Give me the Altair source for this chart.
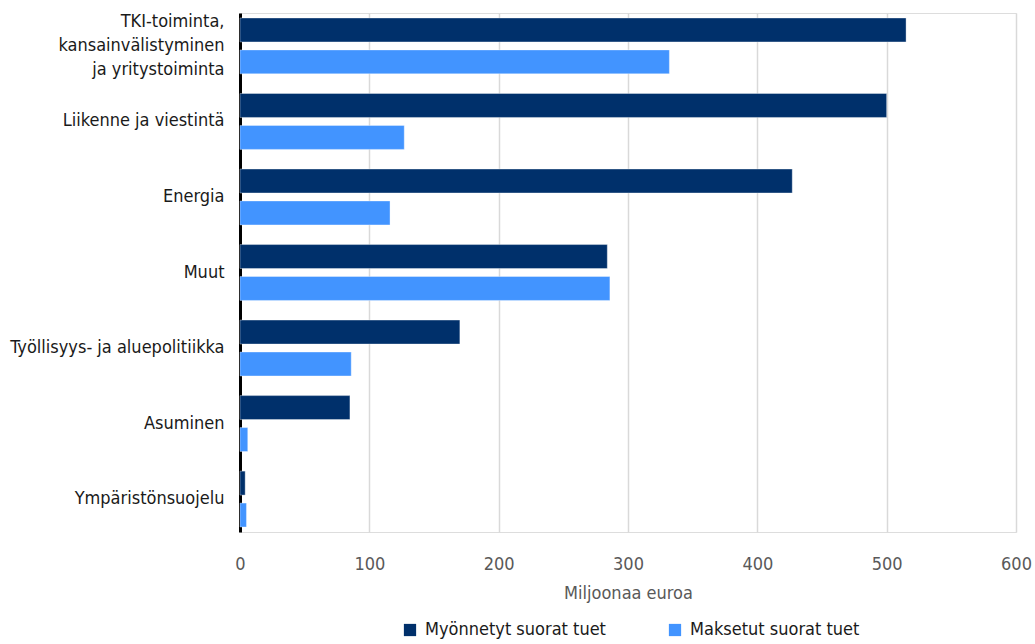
import altair as alt
import pandas as pd

categories = [
    "TKI-toiminta, kansainvälistyminen ja yritystoiminta",
    "Liikenne ja viestintä",
    "Energia",
    "Muut",
    "Työllisyys- ja aluepolitiikka",
    "Asuminen",
    "Ympäristönsuojelu",
]
series_names = ["Myönnetyt suorat tuet", "Maksetut suorat tuet"]
myonnetyt = [515, 500, 427, 284, 170, 85, 4]
maksetut = [332, 127, 116, 286, 86, 6, 5]
colors = ["#00306B", "#4294FF"]
x_ticks = [0, 100, 200, 300, 400, 500, 600]

rows = []
for c, a, b in zip(categories, myonnetyt, maksetut):
    rows.append({"kategoria": c, "sarja": series_names[0], "arvo": a})
    rows.append({"kategoria": c, "sarja": series_names[1], "arvo": b})
df = pd.DataFrame(rows)

FONT = "Liberation Sans Narrow, DejaVu Sans Condensed, sans-serif"

long_label = categories[0]
label_expr = (
    f"datum.label == '{long_label}' ? "
    "['TKI-toiminta,', 'kansainvälistyminen', 'ja yritystoiminta'] : datum.label"
)

chart = (
    alt.Chart(df)
    .mark_bar(stroke="#ffffff", strokeWidth=0.6, strokeOpacity=0.6)
    .encode(
        x=alt.X(
            "arvo:Q",
            scale=alt.Scale(domain=[0, 600], nice=False),
            axis=alt.Axis(
                values=x_ticks,
                title="Miljoonaa euroa",
                grid=True,
                gridColor="#d9d9d9",
                gridWidth=1.5,
                domain=False,
                ticks=False,
                labelFlush=False,
                labelPadding=23,
                labelFontSize=18,
                labelColor="#595959",
                labelFont=FONT,
                titleFont=FONT,
                titleFontSize=18,
                titleFontWeight="normal",
                titleColor="#595959",
                titlePadding=11,
            ),
        ),
        y=alt.Y(
            "kategoria:N",
            sort=categories,
            scale=alt.Scale(paddingInner=0.26, paddingOuter=0.066),
            axis=alt.Axis(
                title=None,
                domain=True,
                domainColor="#000000",
                domainWidth=3,
                ticks=False,
                grid=False,
                labelPadding=16,
                labelFontSize=18,
                labelColor="#1a1a1a",
                labelFont=FONT,
                labelLimit=400,
                labelLineHeight=24,
                labelExpr=label_expr,
                labelOffset={
                    "condition": {"test": f"datum.value == '{long_label}'", "value": -24},
                    "value": 0,
                },
            ),
        ),
        yOffset=alt.YOffset(
            "sarja:N",
            sort=series_names,
            scale=alt.Scale(paddingInner=0.25, paddingOuter=0),
        ),
        color=alt.Color(
            "sarja:N",
            sort=series_names,
            scale=alt.Scale(domain=series_names, range=colors),
            legend=alt.Legend(
                title=None,
                orient="none",
                legendX=161,
                legendY=608,
                direction="horizontal",
                symbolType="square",
                symbolSize=150,
                symbolStrokeWidth=0,
                labelFont=FONT,
                labelFontSize=18,
                labelColor="#1a1a1a",
                labelLimit=400,
                columnPadding=60,
                labelOffset=6,
            ),
        ),
    )
    .properties(
        width=776,
        height=519,
        autosize=alt.AutoSizeParams(type="none"),
        padding={"left": 240, "top": 13, "right": 19, "bottom": 112},
    )
    .configure_view(stroke=None)
    .configure(background="white")
)

chart.save("out.html", embed_options={"renderer": "svg", "actions": False})
